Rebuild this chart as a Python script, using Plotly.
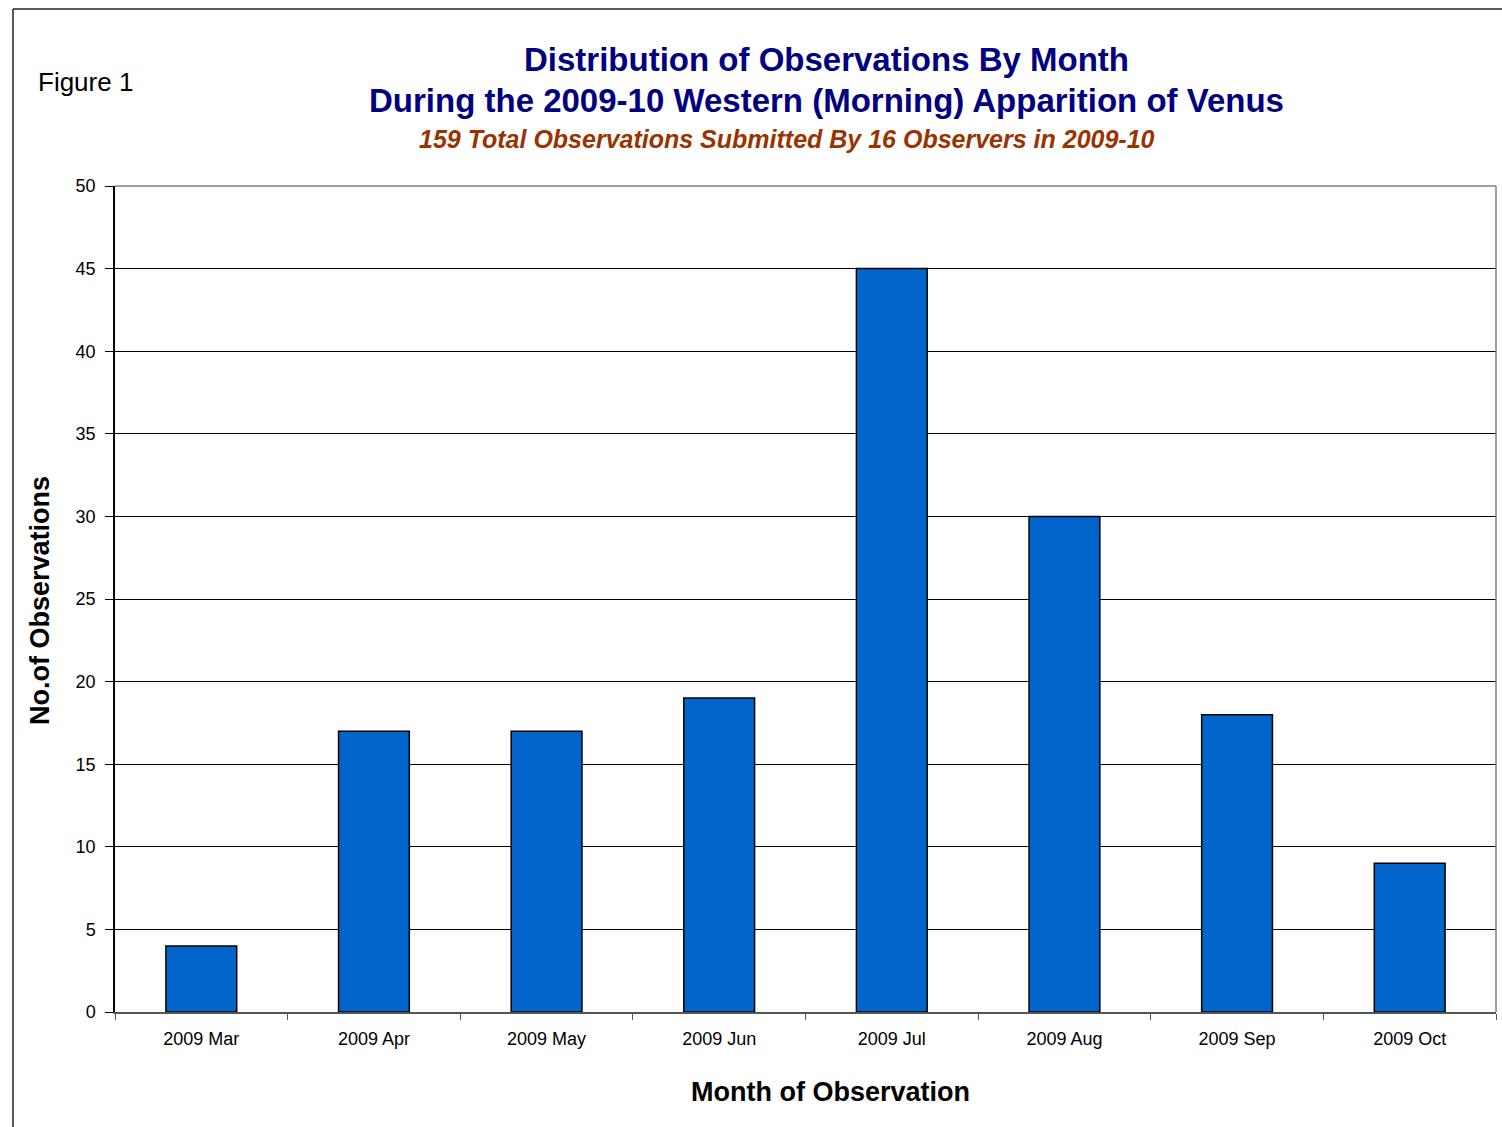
import plotly.graph_objects as go

# Monthly observation counts, 2009-10 western (morning) apparition of Venus
months = ["2009 Mar", "2009 Apr", "2009 May", "2009 Jun",
          "2009 Jul", "2009 Aug", "2009 Sep", "2009 Oct"]
observations = [4, 17, 17, 19, 45, 30, 18, 9]
y_ticks = [0, 5, 10, 15, 20, 25, 30, 35, 40, 45, 50]

W, H = 1502, 1127
L, R, T, B = 115, 6, 186, 115
pw, ph = W - L - R, H - T - B

def px(x):
    return (x - L) / pw

def py(y):
    return (H - B - y) / ph

FONT = "Liberation Sans, Arial, sans-serif"

fig = go.Figure(go.Bar(
    x=months, y=observations,
    marker=dict(color="#0066CC", line=dict(color="#000000", width=1.5)),
    width=0.41,
))

fig.update_layout(
    width=W, height=H,
    margin=dict(l=L, r=R, t=T, b=B),
    paper_bgcolor="white", plot_bgcolor="white",
    showlegend=False,
    font=dict(family=FONT, color="#000000"),
    bargap=0.59,
)

fig.update_xaxes(
    type="category",
    showline=True, linecolor="#555555", linewidth=1.5,
    ticks="outside", tickson="boundaries", ticklen=6, tickcolor="#555555",
    tickfont=dict(size=18, family=FONT, color="#000000"),
    ticklabelstandoff=10,
    showgrid=False,
)
fig.update_yaxes(
    range=[0, 50], tickvals=y_ticks,
    showline=True, linecolor="#000000", linewidth=1.5,
    ticks="outside", ticklen=8, tickcolor="#000000",
    tickfont=dict(size=18, family=FONT, color="#000000"),
    ticklabelstandoff=6,
    showgrid=True, gridcolor="#000000", gridwidth=1,
    zeroline=False,
)

shapes = [
    # plot area border (top and right)
    dict(type="line", xref="paper", yref="paper", x0=0, x1=1, y0=1, y1=1,
         line=dict(color="#808080", width=1.5)),
    dict(type="line", xref="paper", yref="paper", x0=1, x1=1, y0=0, y1=1,
         line=dict(color="#808080", width=1.5)),
    # outer chart frame
    dict(type="line", xref="paper", yref="paper", x0=px(13), x1=px(1510),
         y0=py(9), y1=py(9), line=dict(color="#222222", width=1.5)),
    dict(type="line", xref="paper", yref="paper", x0=px(13), x1=px(13),
         y0=py(9), y1=py(1135), line=dict(color="#222222", width=1.5)),
]
fig.update_layout(shapes=shapes)

ann = [
    dict(text="Figure 1", x=px(36), y=py(82), xanchor="left", yanchor="middle",
         font=dict(size=26, color="#000000", family=FONT)),
    dict(text="<b>Distribution of Observations By Month</b>", x=px(826), y=py(59),
         xanchor="center", yanchor="middle",
         font=dict(size=33, color="#000080", family=FONT)),
    dict(text="<b>During the 2009-10 Western (Morning) Apparition of Venus</b>",
         x=px(826), y=py(101), xanchor="center", yanchor="middle",
         font=dict(size=33, color="#000080", family=FONT)),
    dict(text="<b><i>159 Total Observations Submitted By 16 Observers in 2009-10</i></b>",
         x=px(787), y=py(139), xanchor="center", yanchor="middle",
         font=dict(size=25, color="#993300", family=FONT)),
    dict(text="<b>No.of Observations</b>", x=px(40), y=py(601), textangle=-90,
         xanchor="center", yanchor="middle",
         font=dict(size=27, color="#000000", family=FONT)),
    dict(text="<b>Month of Observation</b>", x=px(830), y=py(1092),
         xanchor="center", yanchor="middle",
         font=dict(size=27, color="#000000", family=FONT)),
]
for a in ann:
    a.update(xref="paper", yref="paper", showarrow=False)
fig.update_layout(annotations=ann)

fig.write_html("out.html")
